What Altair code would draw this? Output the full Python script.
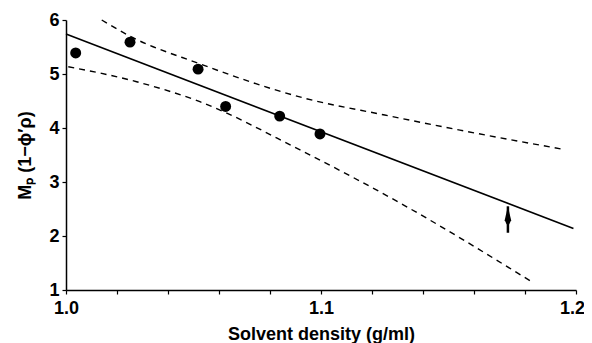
import altair as alt
import pandas as pd

# Data points
pts_x = [1.0038, 1.0251, 1.0518, 1.0626, 1.0838, 1.0996]
pts_y = [5.39, 5.59, 5.09, 4.40, 4.22, 3.89]

# Regression line endpoints
fit_x = [1.0, 1.199]
fit_y = [5.74, 2.14]

# Upper confidence band
up_x = [1.014, 1.0251, 1.0518, 1.0937, 1.125, 1.1545, 1.1944]
up_y = [6.00, 5.70, 5.20, 4.55, 4.24, 3.96, 3.61]

# Lower confidence band
lo_x = [1.0009, 1.0277, 1.0525, 1.0918, 1.131, 1.1826]
lo_y = [5.135, 4.857, 4.487, 3.593, 2.611, 1.154]

# Arrow (points up to the fitted line)
arrow_x = [1.1733, 1.1733]
arrow_y = [2.06, 2.55]

x_ticks = [round(1.0 + 0.02 * i, 2) for i in range(11)]
y_ticks = [1 + 0.5 * i for i in range(11)]

FONT = "Liberation Sans"

xscale = alt.Scale(domain=[1.0, 1.2], nice=False, zero=False)
yscale = alt.Scale(domain=[1, 6], nice=False, zero=False)

xaxis = alt.Axis(
    title="Solvent density (g/ml)",
    values=x_ticks,
    labelExpr="abs(datum.value*10 - round(datum.value*10)) < 0.001 ? format(datum.value, '.1f') : ''",
    grid=False,
    tickSize=4,
    labelPadding=5,
    labelFlush=False,
    labelOffset={"condition": {"test": "datum.value > 1.19", "value": -4}, "value": 0},
    titlePadding=8,
)
yaxis = alt.Axis(
    title="Mₚ (1−ϕ′ρ)",
    values=y_ticks,
    labelExpr="datum.value % 1 == 0 ? format(datum.value, 'd') : ''",
    grid=False,
    tickSize=4,
    labelPadding=3,
    labelFlush=False,
    titlePadding=14,
)

pts = pd.DataFrame({"x": pts_x, "y": pts_y})
fit = pd.DataFrame({"x": fit_x, "y": fit_y})
up = pd.DataFrame({"x": up_x, "y": up_y})
lo = pd.DataFrame({"x": lo_x, "y": lo_y})
arr = pd.DataFrame({"x": arrow_x, "y": arrow_y})

base_enc = dict(
    x=alt.X("x:Q", scale=xscale, axis=xaxis),
    y=alt.Y("y:Q", scale=yscale, axis=yaxis),
)

fit_line = alt.Chart(fit).mark_line(color="black", strokeWidth=1.6).encode(**base_enc)
up_line = alt.Chart(up).mark_line(
    color="black", strokeWidth=1.4, strokeDash=[6, 5], interpolate="monotone", clip=False
).encode(x="x:Q", y="y:Q")
lo_line = alt.Chart(lo).mark_line(
    color="black", strokeWidth=1.4, strokeDash=[6, 5], interpolate="monotone"
).encode(x="x:Q", y="y:Q")
dots = alt.Chart(pts).mark_circle(color="black", size=120, opacity=1).encode(x="x:Q", y="y:Q")

arrow_shaft = alt.Chart(arr).mark_line(color="black", strokeWidth=2.5).encode(x="x:Q", y="y:Q")
arrow_head = alt.Chart(arr.iloc[[1]]).mark_point(
    shape="M0,-1L0.36,0.55L0.14,1L-0.14,1L-0.36,0.55Z",
    filled=True, color="black", size=324, opacity=1, yOffset=9,
).encode(x="x:Q", y="y:Q")

chart = (
    alt.layer(fit_line, up_line, lo_line, dots, arrow_shaft, arrow_head)
    .properties(
        width=510,
        height=270,
        autosize=alt.AutoSizeParams(type="none"),
        padding={"left": 58, "top": 12, "right": 8, "bottom": 53},
    )
    .configure_view(stroke=None)
    .configure_axis(
        domainColor="black",
        domainWidth=1.5,
        tickColor="black",
        tickWidth=1.2,
        labelFont=FONT,
        labelFontSize=18,
        labelFontWeight="bold",
        labelColor="black",
        titleFont=FONT,
        titleFontSize=18,
        titleFontWeight="bold",
        titleColor="black",
    )
)

chart.save("out.html", embed_options={"renderer": "svg", "actions": False})
